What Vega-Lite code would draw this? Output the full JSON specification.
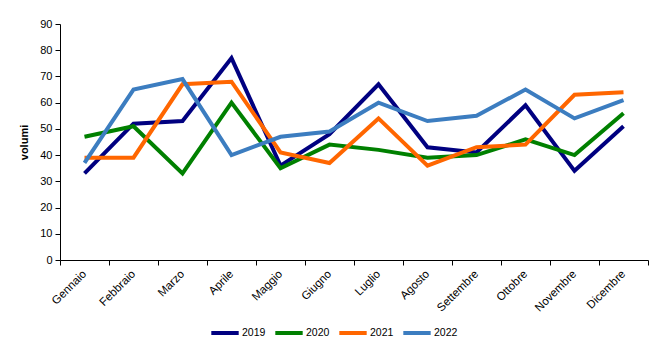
{
  "$schema": "https://vega.github.io/schema/vega-lite/v6.json",
  "width": 588,
  "height": 236,
  "autosize": "none",
  "padding": {"left": 60, "top": 24, "right": 13, "bottom": 95},
  "background": "white",
  "config": {
    "view": {"stroke": null},
    "font": "Liberation Sans",
    "axis": {"labelFont": "Liberation Sans", "titleFont": "Liberation Sans", "labelColor": "black", "domainColor": "black", "tickColor": "black", "grid": false, "labelFontSize": 11}
  },
  "data": {"values": [
    {"mese": "Gennaio", "anno": "2019", "v": 33}, {"mese": "Febbraio", "anno": "2019", "v": 52}, {"mese": "Marzo", "anno": "2019", "v": 53}, {"mese": "Aprile", "anno": "2019", "v": 77}, {"mese": "Maggio", "anno": "2019", "v": 36}, {"mese": "Giugno", "anno": "2019", "v": 48}, {"mese": "Luglio", "anno": "2019", "v": 67}, {"mese": "Agosto", "anno": "2019", "v": 43}, {"mese": "Settembre", "anno": "2019", "v": 41}, {"mese": "Ottobre", "anno": "2019", "v": 59}, {"mese": "Novembre", "anno": "2019", "v": 34}, {"mese": "Dicembre", "anno": "2019", "v": 51},
    {"mese": "Gennaio", "anno": "2020", "v": 47}, {"mese": "Febbraio", "anno": "2020", "v": 51}, {"mese": "Marzo", "anno": "2020", "v": 33}, {"mese": "Aprile", "anno": "2020", "v": 60}, {"mese": "Maggio", "anno": "2020", "v": 35}, {"mese": "Giugno", "anno": "2020", "v": 44}, {"mese": "Luglio", "anno": "2020", "v": 42}, {"mese": "Agosto", "anno": "2020", "v": 39}, {"mese": "Settembre", "anno": "2020", "v": 40}, {"mese": "Ottobre", "anno": "2020", "v": 46}, {"mese": "Novembre", "anno": "2020", "v": 40}, {"mese": "Dicembre", "anno": "2020", "v": 56},
    {"mese": "Gennaio", "anno": "2021", "v": 39}, {"mese": "Febbraio", "anno": "2021", "v": 39}, {"mese": "Marzo", "anno": "2021", "v": 67}, {"mese": "Aprile", "anno": "2021", "v": 68}, {"mese": "Maggio", "anno": "2021", "v": 41}, {"mese": "Giugno", "anno": "2021", "v": 37}, {"mese": "Luglio", "anno": "2021", "v": 54}, {"mese": "Agosto", "anno": "2021", "v": 36}, {"mese": "Settembre", "anno": "2021", "v": 43}, {"mese": "Ottobre", "anno": "2021", "v": 44}, {"mese": "Novembre", "anno": "2021", "v": 63}, {"mese": "Dicembre", "anno": "2021", "v": 64},
    {"mese": "Gennaio", "anno": "2022", "v": 37}, {"mese": "Febbraio", "anno": "2022", "v": 65}, {"mese": "Marzo", "anno": "2022", "v": 69}, {"mese": "Aprile", "anno": "2022", "v": 40}, {"mese": "Maggio", "anno": "2022", "v": 47}, {"mese": "Giugno", "anno": "2022", "v": 49}, {"mese": "Luglio", "anno": "2022", "v": 60}, {"mese": "Agosto", "anno": "2022", "v": 53}, {"mese": "Settembre", "anno": "2022", "v": 55}, {"mese": "Ottobre", "anno": "2022", "v": 65}, {"mese": "Novembre", "anno": "2022", "v": 54}, {"mese": "Dicembre", "anno": "2022", "v": 61}
  ]},
  "mark": {"type": "line", "strokeWidth": 4, "strokeJoin": "miter"},
  "encoding": {
    "x": {
      "field": "mese", "type": "ordinal", "sort": null, "bandPosition": 0.5,
      "scale": {"type": "band", "paddingInner": 0, "paddingOuter": 0},
      "axis": {"title": null, "labelAngle": -45, "labelAlign": "right", "labelBaseline": "middle", "tickBand": "extent", "tickSize": 5, "labelPadding": 7, "labelFontSize": 11.5}
    },
    "y": {
      "field": "v", "type": "quantitative",
      "scale": {"domain": [0, 90], "nice": false},
      "axis": {"title": "volumi", "values": [0, 10, 20, 30, 40, 50, 60, 70, 80, 90], "tickSize": 5, "labelPadding": 3, "titleFontSize": 11, "titleFontWeight": "bold", "titlePadding": 10}
    },
    "color": {
      "field": "anno", "type": "nominal",
      "scale": {"domain": ["2019", "2020", "2021", "2022"], "range": ["#000080", "#008000", "#FF6600", "#3C7DC0"]},
      "legend": {"title": null, "orient": "none", "direction": "horizontal", "legendX": 149, "legendY": 293, "symbolType": "stroke", "symbolSize": 750, "symbolStrokeWidth": 4, "labelFontSize": 10.5, "labelColor": "black", "columnPadding": 1, "labelOffset": 1}
    }
  }
}
